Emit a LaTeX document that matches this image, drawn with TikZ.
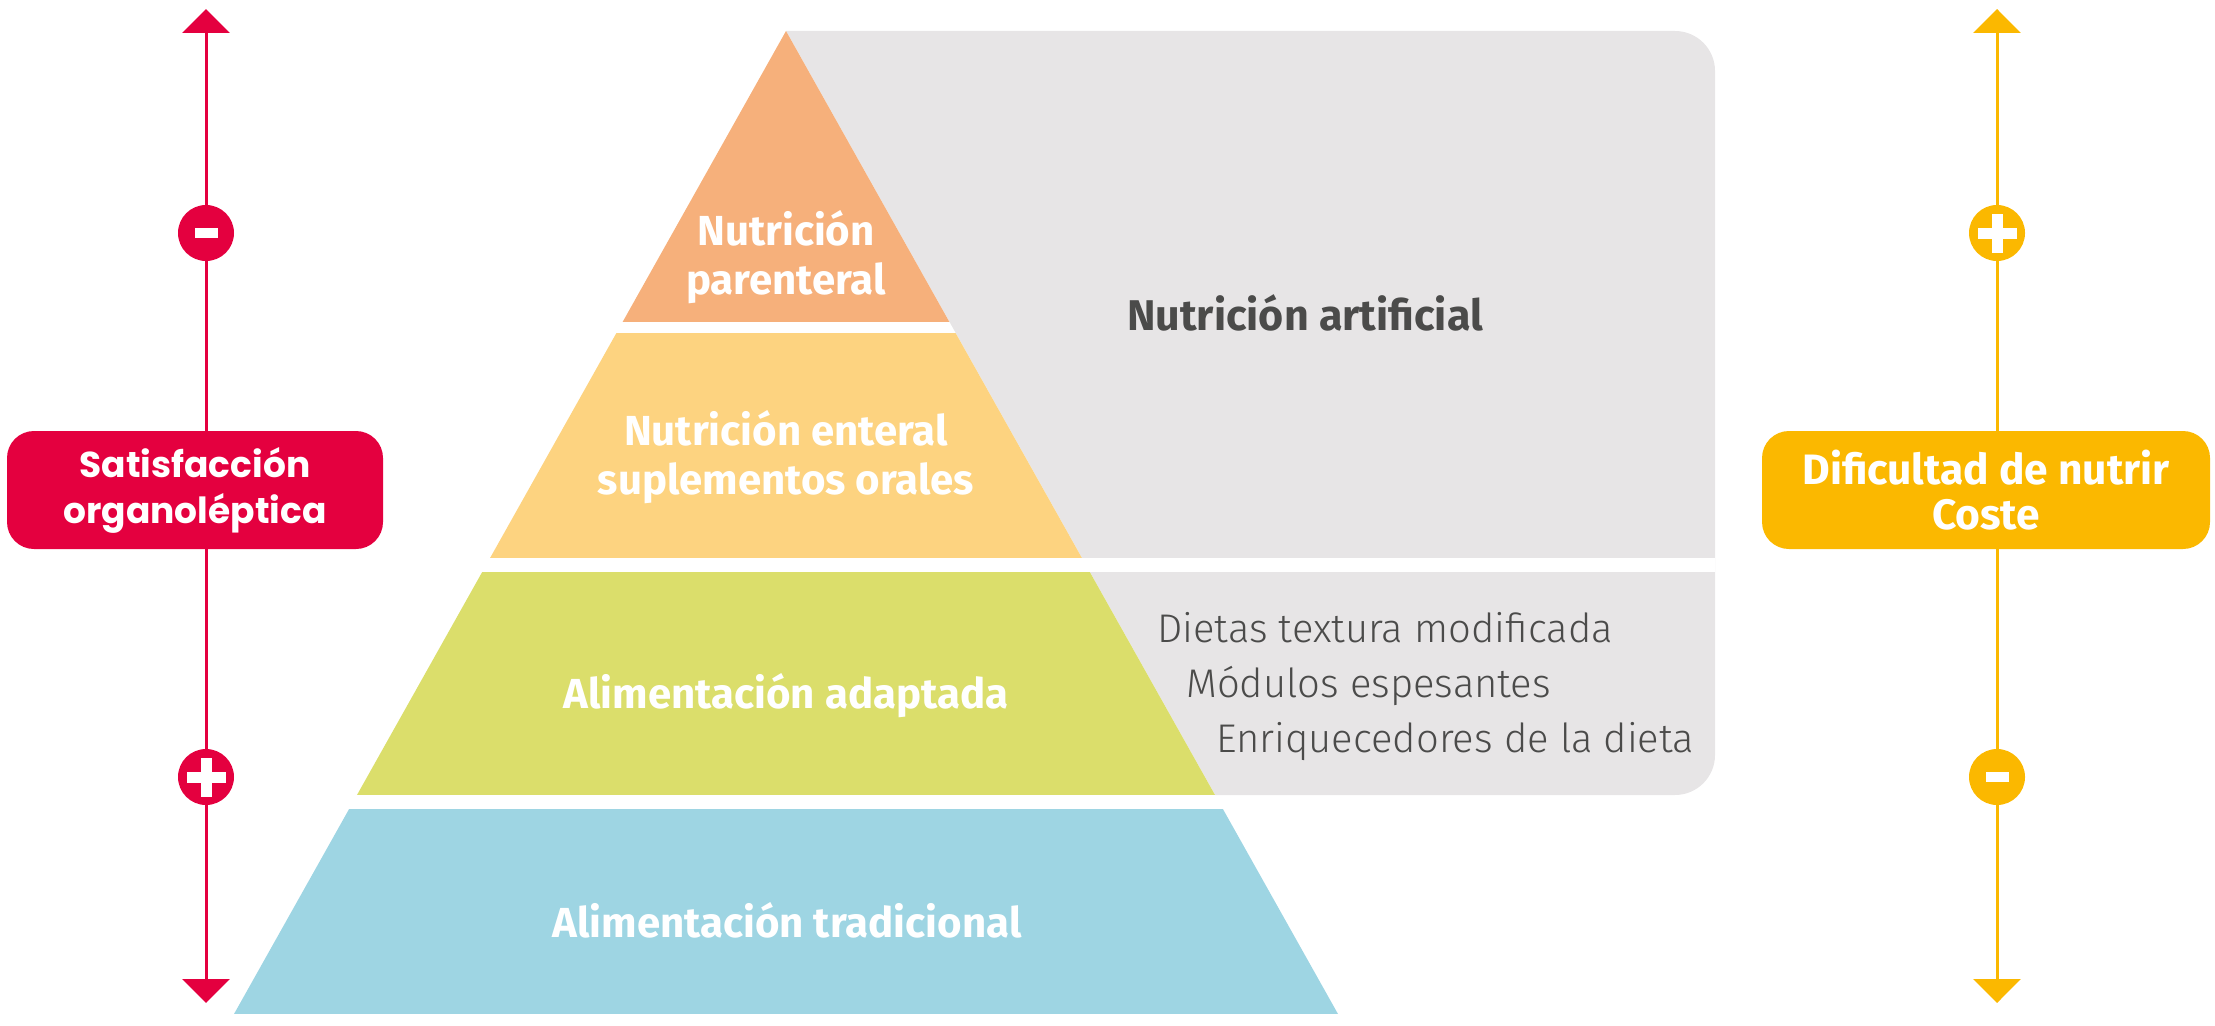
\documentclass[tikz,border=0pt]{standalone}
\usepackage{fontspec}
\setmainfont{Fira Sans}
\newfontfamily\lightfont{Fira Sans Light}
\newfontfamily\geofont{Poppins}
\usetikzlibrary{arrows.meta}

\definecolor{parentc}{HTML}{F6B07B}
\definecolor{enterc}{HTML}{FDD380}
\definecolor{adaptc}{HTML}{DBDE6B}
\definecolor{tradc}{HTML}{9ED5E3}
\definecolor{panelgray}{HTML}{E7E5E6}
\definecolor{axisred}{HTML}{E4003F}
\definecolor{axisamber}{HTML}{FBB800}
\definecolor{darktext}{HTML}{4B4B4A}

\tikzset{
	layertext/.style={text=white, font=\bfseries\fontsize{42}{49}\selectfont, align=center},
	listtext/.style={text=darktext, font=\lightfont\fontsize{40}{48}\selectfont, anchor=base west, inner sep=0pt},
	axisline/.style={#1, line width=3pt, {Triangle[width=47pt,length=24pt]}-{Triangle[width=47pt,length=24pt]}},
	signdot/.style={circle, fill=#1, minimum size=56pt, inner sep=0pt},
	minussign/.style={path picture={\fill[white] ([shift={(-11.5pt,-5pt)}]path picture bounding box.center) rectangle ++(23pt,10pt);}},
	plussign/.style={path picture={
		\fill[white] ([shift={(-19.5pt,-5.5pt)}]path picture bounding box.center) rectangle ++(39pt,11pt);
		\fill[white] ([shift={(-5.5pt,-19.5pt)}]path picture bounding box.center) rectangle ++(11pt,39pt);}},
	axisbox/.style={fill=#1, text=white, rounded corners=27pt, align=center, inner sep=0pt, minimum height=118pt}
}

\begin{document}
\begin{tikzpicture}[x=1pt,y=-1pt]
	\useasboundingbox (0,0) rectangle (2215,1025);

	\path
	( 786,  31) coordinate (apex)
	( 234,1014) coordinate (BL)
	(1338,1014) coordinate (BR)
	( 206,   9) coordinate (ltop)
	( 206,1003) coordinate (lbot)
	(1997,   9) coordinate (rtop)
	(1997,1003) coordinate (rbot);

	% grey panel behind the right side of the pyramid
	\begin{scope}
		\clip (786,0) rectangle (2215,1025);
		\fill[panelgray, rounded corners=40pt] (600,31) rectangle (1715,795);
	\end{scope}
	\fill[white] (786,558) rectangle (1715,572);
	\fill[white] (apex) -- (BL) -- (BR) -- cycle;

	% pyramid layers
	\begin{scope}
		\clip (apex) -- (BL) -- (BR) -- cycle;
		\foreach \ya/\yb/\c in {31/322/parentc, 333/558/enterc, 572/795/adaptc, 809/1014/tradc}
			\fill[\c] (0,\ya) rectangle (2215,\yb);
	\end{scope}

	\node[layertext] (parenteral) at (786,257) {Nutrición\\parenteral};
	\node[layertext] (enteral) at (786,457) {Nutrición enteral\\suplementos orales};
	\node[layertext, anchor=base] (adaptada) at (786,708) {Alimentación adaptada};
	\node[layertext, anchor=base] (tradicional) at (787,937) {Alimentación tradicional};

	\node[layertext, text=darktext, font=\bfseries\fontsize{43}{49}\selectfont, anchor=base] (artificial) at (1305,330) {Nutrición artificial};
	\node[listtext] (dietas) at (1157,642) {Dietas textura modificada};
	\node[listtext] (modulos) at (1186,697) {Módulos espesantes};
	\node[listtext] (enriq) at (1216,752) {Enriquecedores de la dieta};

	% left axis
	\draw[axisline=axisred] (ltop) -- (lbot);
	\node[signdot=axisred, minussign] (lminus) at (206,233) {};
	\node[signdot=axisred, plussign] (lplus) at (206,777) {};
	\node[axisbox=axisred, minimum width=376pt, font=\geofont\bfseries\fontsize{36}{46}\selectfont] (satis) at (195,490) {Satisfacción\\organoléptica};

	% right axis
	\draw[axisline=axisamber] (rtop) -- (rbot);
	\node[signdot=axisamber, plussign] (rplus) at (1997,233) {};
	\node[signdot=axisamber, minussign] (rminus) at (1997,777) {};
	\node[axisbox=axisamber, minimum width=448pt, font=\bfseries\fontsize{42.5}{45}\selectfont] (dificultad) at (1986,490) {Dificultad de nutrir\\Coste};
\end{tikzpicture}
\end{document}
